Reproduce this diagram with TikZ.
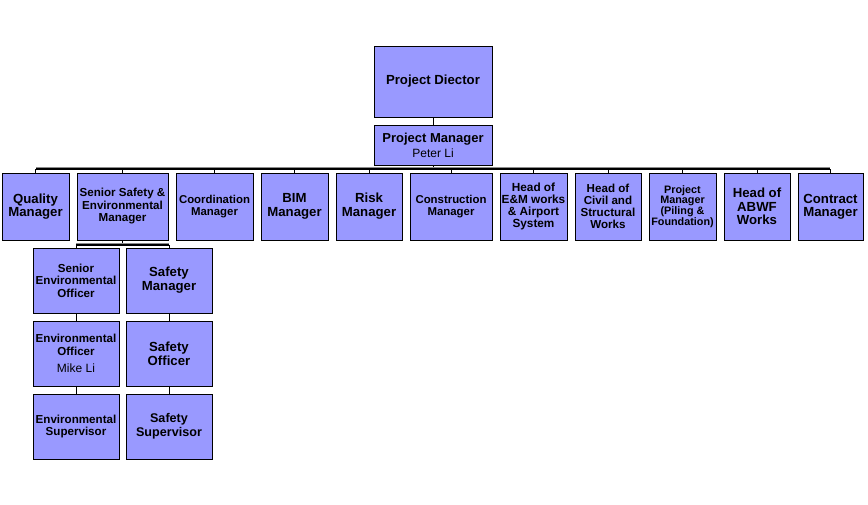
\documentclass[tikz,border=0pt]{standalone}
\usepackage{fontspec}
\setmainfont{Liberation Sans}
\definecolor{boxfill}{HTML}{9999FF}
\definecolor{shadowgray}{HTML}{8C8C8C}
\newcommand{\fs}[2]{\fontsize{#1}{#2}\selectfont}
\begin{document}
\begin{tikzpicture}[x=1pt,y=-1pt,
  box/.style={draw=black, line width=0.9pt, fill=boxfill, inner sep=0pt, align=center, font=\bfseries},
  link/.style={draw=black, line width=0.7pt},
  bar/.style={draw=black, line width=1.3pt}]
\useasboundingbox (0,0) rectangle (868,505);
% top
\node[box, minimum width=118, minimum height=71, font=\bfseries\fs{13.2}{14}] (pd) at (433,81.5) {Project Diector};
\node[box, minimum width=118, minimum height=40] (pm) at (433,145) {{\bfseries\fs{13}{13}Project Manager}\\[3pt]{\mdseries\fs{12}{12}Peter Li}};
% row 2
\node[box, minimum width=67, minimum height=67, font=\bfseries\fs{13.2}{13.3}] (qm) at (35.5,206.5) {Quality\\Manager};
\node[box, minimum width=91, minimum height=67, font=\bfseries\fs{11.6}{12.5}] (sse) at (122.5,206.5) {Senior  Safety \&\\Environmental\\Manager};
\node[box, minimum width=77, minimum height=67, font=\bfseries\fs{11.4}{12.2}] (coord) at (214.5,206.5) {Coordination\\Manager};
\node[box, minimum width=67, minimum height=67, font=\bfseries\fs{13.2}{13.8}] (bim) at (294.5,206.5) {BIM\\Manager};
\node[box, minimum width=66, minimum height=67, font=\bfseries\fs{13.2}{13.8}] (risk) at (369,206.5) {Risk\\Manager};
\node[box, minimum width=82, minimum height=67, font=\bfseries\fs{11.4}{12.2}] (cons) at (451,206.5) {Construction\\Manager};
\node[box, minimum width=67, minimum height=67, font=\bfseries\fs{11.8}{12.2}] (em) at (533.5,206.5) {Head of\\E\&M works\\\& Airport\\System};
\node[box, minimum width=66, minimum height=67, font=\bfseries\fs{11.6}{12.2}] (civ) at (608,206.5) {Head of\\Civil  and\\Structural\\Works};
\node[box, minimum width=67, minimum height=67, font=\bfseries\fs{10.8}{10.6}] (pil) at (682.5,206.5) {Project\\Manager\\(Piling \&\\Foundation)};
\node[box, minimum width=66, minimum height=67, font=\bfseries\fs{13.2}{13.4}] (abwf) at (757,206.5) {Head of\\ABWF\\Works};
\node[box, minimum width=65, minimum height=67, font=\bfseries\fs{13.2}{13.4}] (cm) at (830.5,206.5) {Contract\\Manager};
% row 3
\node[box, minimum width=86, minimum height=65, font=\bfseries\fs{11.6}{12.5}] (seo) at (76,280.5) {Senior\\Environmental\\Officer};
\node[box, minimum width=86, minimum height=65, font=\bfseries\fs{13.2}{14}] (sm) at (169,280.5) {Safety\\Manager};
\node[box, minimum width=86, minimum height=65, font=\bfseries\fs{11.6}{12.5}] (eo) at (76,353.5) {Environmental\\Officer\\[5pt]\mdseries\fs{12}{12}Mike Li};
\node[box, minimum width=86, minimum height=65, font=\bfseries\fs{13.2}{14}] (so) at (169,353.5) {Safety\\Officer};
\node[box, minimum width=86, minimum height=65, font=\bfseries\fs{11.6}{12.5}] (es) at (76,426.5) {Environmental\\Supervisor};
\node[box, minimum width=86, minimum height=65, font=\bfseries\fs{12.6}{14}] (ss) at (169,426.5) {Safety\\Supervisor};
% connectors
\coordinate (barL) at (36,169);
\coordinate (barR) at (830,169);
\coordinate (pmj) at (433,169);
\draw[link] (pd.south) -- (pm.north);
\draw[link] (pm.south) -- (pmj);
\draw[shadowgray, line width=0.8pt] (36,167.6) -- (830,167.6);
\draw[bar] (barL) -- (barR);
\foreach \n in {qm,sse,coord,bim,risk,cons,em,civ,pil,abwf,cm}{
  \draw[link] (\n.north) -- (\n.north |- pmj);
}
\coordinate (sbj) at (122.5,245);
\draw[link] (sse.south) -- (sbj);
\draw[shadowgray, line width=0.8pt] (76,243.8) -- (169,243.8);
\draw[bar] (seo.north |- sbj) -- (sm.north |- sbj);
\draw[link] (seo.north) -- (seo.north |- sbj);
\draw[link] (sm.north) -- (sm.north |- sbj);
\draw[link] (seo.south) -- (eo.north);
\draw[link] (eo.south) -- (es.north);
\draw[link] (sm.south) -- (so.north);
\draw[link] (so.south) -- (ss.north);
\end{tikzpicture}
\end{document}
